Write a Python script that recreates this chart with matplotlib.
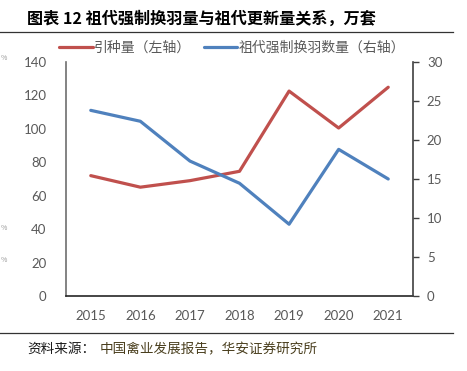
import matplotlib
matplotlib.use("Agg")
from matplotlib import pyplot as plt

plt.rcParams['font.family'] = ['Noto Sans CJK SC', 'DejaVu Sans']

years = ["2015", "2016", "2017", "2018", "2019", "2020", "2021"]
yinzhong = [72.0, 65.1, 69.0, 74.6, 122.6, 100.5, 124.9]     # left axis
huanyu = [23.8, 22.4, 17.3, 14.45, 9.2, 18.8, 15.0]          # right axis

red = "#C0504D"
blue = "#4F81BD"
gray = "#595959"

fig = plt.figure(figsize=(4.67, 3.71), dpi=100)
ax = fig.add_axes([0.1413, 0.2022, 0.7431, 0.6307])
ax2 = ax.twinx()

x = range(len(years))
l1, = ax.plot(x, yinzhong, color=red, lw=2.3, solid_capstyle='round', label="引种量（左轴）")
l2, = ax2.plot(x, huanyu, color=blue, lw=2.3, solid_capstyle='round', label="祖代强制换羽数量（右轴）")

ax.set_xlim(-0.5, 6.5)
ax.set_ylim(0, 140)
ax.set_yticks(range(0, 141, 20))
ax2.set_ylim(0, 30)
ax2.set_yticks(range(0, 31, 5))
ax.set_xticks(list(x))
ax.set_xticklabels(years)

for a in (ax, ax2):
    a.spines['top'].set_visible(False)
ax.spines['right'].set_visible(False)
ax2.spines['left'].set_visible(False)
ax2.spines['bottom'].set_visible(False)
ax.spines['left'].set_color("#6e6e6e")
ax.spines['left'].set_linewidth(1.2)
ax.spines['bottom'].set_color("#262626")
ax.spines['bottom'].set_linewidth(1.2)
ax2.spines['right'].set_color("#404040")
ax2.spines['right'].set_linewidth(1.2)

ax.tick_params(axis='y', length=0, pad=14, labelsize=9.5, labelcolor=gray)
ax.tick_params(axis='x', length=0, pad=10, labelsize=9.5, labelcolor=gray)
ax2.tick_params(axis='y', length=4, width=1.0, color="#404040", pad=6, labelsize=9.5, labelcolor=gray)
for lab in ax.get_xticklabels() + ax.get_yticklabels() + ax2.get_yticklabels():
    lab.set_family(['Lato', 'DejaVu Sans'])

fig.legend(handles=[l1, l2], loc='center', bbox_to_anchor=(0.497, 0.871), ncol=2,
           frameon=False, fontsize=10, labelcolor=gray, handlelength=2.4,
           handletextpad=0.1, columnspacing=0.9)

fig.text(0.058, 0.951, "图表 12 祖代强制换羽量与祖代更新量关系，万套", fontsize=11.6,
         fontweight='bold', va='center', ha='left')
fig.add_artist(plt.Line2D([0, 0.97], [0.914, 0.914], color="#333333", lw=0.9))
fig.add_artist(plt.Line2D([0, 0.97], [0.102, 0.102], color="#333333", lw=0.9))
fig.text(0.058, 0.059, "资料来源：", fontsize=9.8, va='center', ha='left', color="#1a1a1a")
fig.text(0.214, 0.059, "中国禽业发展报告，华安证券研究所", fontsize=9.8, va='center',
         ha='left', color="#4a3f1e")

# small marks at the left edge of the original crop
for yy in (0.843, 0.385, 0.3):
    fig.text(0.001, yy, "%", fontsize=5, color="#9a9a9a", va='center', ha='left')

fig.savefig("out.png", dpi=100)
